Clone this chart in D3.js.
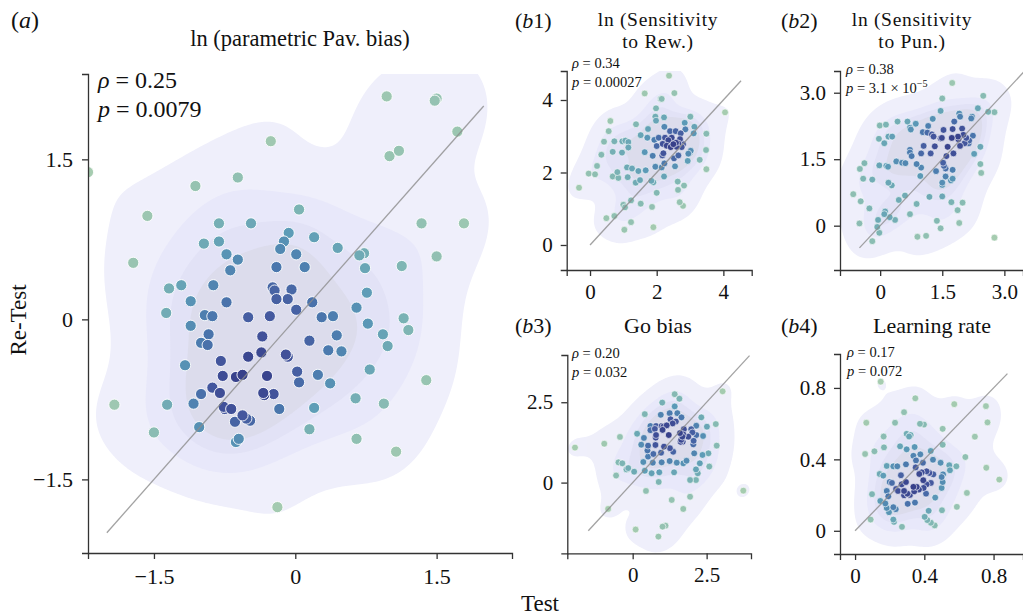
<!DOCTYPE html>
<html><head><meta charset="utf-8">
<script src="https://cdn.jsdelivr.net/npm/d3@7"></script>
<style>
body{margin:0;background:#fff}
svg{display:block}
text{font-family:"Liberation Serif","DejaVu Serif",serif;fill:#111}
</style>
</head><body><svg id="c" width="1023" height="615"></svg>
<script>
// ---------------- DATA ----------------
const pavBias = [[0.97,2.09],[1.48,2.05],[1.50,2.07],[1.72,1.76],[1.00,1.53],[1.10,1.58],[-0.26,1.67],[-0.61,1.33],[-1.06,1.25],[-1.57,0.97],[-1.72,0.53],[-2.2,1.38],[0.04,1.03],[-0.81,0.90],[-0.47,0.90],[-0.97,0.71],[-0.81,0.73],[-0.07,0.81],[-0.12,0.73],[0.20,0.77],[-0.16,0.66],[0.01,0.61],[-0.73,0.61],[-0.61,0.56],[-0.69,0.46],[-0.20,0.49],[0.10,0.49],[0.45,0.67],[0.68,0.60],[0.73,0.62],[0.74,0.48],[1.13,0.50],[1.34,0.90],[1.79,0.90],[1.50,0.59],[0.76,0.25],[-1.34,0.29],[-1.21,0.32],[-0.87,0.32],[-0.24,0.30],[-0.22,0.27],[-0.04,0.28],[-1.11,0.17],[-0.73,0.16],[-0.20,0.19],[-0.08,0.19],[0.18,0.16],[-1.37,0.06],[-0.96,0.04],[-0.88,0.03],[-1.11,-0.06],[-0.50,0.02],[-0.27,0.03],[0.01,0.09],[0.65,0.11],[0.28,0.02],[0.40,0.03],[0.77,-0.04],[1.15,0.01],[1.20,-0.10],[-0.92,-0.14],[-1.00,-0.22],[-0.93,-0.24],[-0.35,-0.16],[0.15,-0.20],[0.44,-0.15],[0.93,-0.14],[0.98,-0.25],[-0.36,-0.31],[-0.10,-0.33],[-0.08,-0.35],[0.35,-0.29],[0.49,-0.30],[-0.50,-0.35],[-0.79,-0.39],[-1.17,-0.43],[0.79,-0.47],[1.39,-0.57],[-0.77,-0.53],[-0.63,-0.54],[-0.56,-0.52],[-0.30,-0.53],[0.02,-0.49],[0.24,-0.52],[0.04,-0.59],[0.37,-0.60],[-0.88,-0.64],[-0.80,-0.69],[-1.00,-0.70],[-0.34,-0.69],[-0.33,-0.71],[-0.23,-0.70],[0.64,-0.74],[-1.92,-0.80],[-1.36,-0.80],[-1.08,-0.79],[0.94,-0.79],[-0.76,-0.82],[-0.75,-0.84],[-0.68,-0.84],[-0.17,-0.84],[0.20,-0.83],[-0.56,-0.90],[-0.52,-0.93],[-0.48,-0.95],[-0.64,-0.96],[-1.02,-1.01],[-1.50,-1.06],[0.15,-1.03],[0.65,-1.12],[1.07,-1.24],[-0.60,-1.12],[-0.63,-1.15],[-0.19,-1.76]];

const sensRew = [[2.37,4.67],[1.64,4.18],[2.53,4.19],[2.12,4.03],[2.15,4.03],[4.05,3.66],[1.98,3.77],[0.61,3.42],[1.38,3.33],[1.96,3.54],[1.98,3.43],[2.22,3.52],[0.56,3.14],[3.01,3.54],[2.84,3.37],[2.23,3.26],[1.74,3.20],[0.42,2.85],[0.73,2.86],[0.97,2.86],[1.06,2.88],[1.15,2.84],[1.52,3.03],[1.72,2.96],[2.40,3.14],[2.57,3.14],[2.72,3.08],[2.86,3.19],[3.13,3.26],[3.49,3.07],[3.11,3.08],[1.93,2.90],[2.06,2.96],[2.25,2.96],[2.35,2.89],[2.45,2.96],[2.70,2.92],[2.65,2.80],[2.58,2.82],[2.60,2.71],[2.75,2.70],[2.79,2.78],[2.18,2.79],[2.30,2.74],[2.42,2.70],[2.50,2.78],[2.00,2.73],[1.15,2.69],[0.68,2.57],[0.96,2.55],[0.34,2.49],[1.64,2.56],[1.88,2.46],[2.17,2.47],[2.20,2.53],[2.65,2.47],[2.52,2.39],[2.95,2.52],[3.00,2.55],[3.02,2.60],[2.93,2.32],[3.29,2.35],[3.49,2.09],[3.48,2.62],[0.21,2.18],[0.15,1.95],[-0.04,1.97],[-0.33,1.58],[0.82,2.01],[0.68,1.89],[0.85,1.85],[1.11,2.14],[1.26,2.11],[1.45,2.04],[1.67,2.06],[1.96,2.16],[2.15,2.14],[2.23,2.25],[2.55,2.17],[1.13,1.87],[1.37,1.72],[1.50,1.79],[1.84,1.77],[1.90,1.73],[2.22,1.89],[2.00,1.44],[2.63,1.75],[2.82,1.64],[2.64,1.52],[1.23,1.23],[1.52,1.14],[1.86,1.05],[2.69,1.18],[2.79,1.08],[1.00,1.11],[1.05,1.04],[0.49,0.74],[0.73,0.80],[1.23,0.63],[1.03,0.42],[1.90,0.49]];

const sensPun = [[1.74,3.22],[1.50,2.87],[2.49,2.93],[2.36,2.65],[2.61,2.57],[2.76,2.56],[1.27,2.41],[1.46,2.59],[1.91,2.53],[1.93,2.46],[2.20,2.42],[2.22,2.46],[0.42,2.35],[0.66,2.35],[0.86,2.30],[0.72,2.21],[0.74,2.17],[-0.01,2.26],[0.14,2.28],[1.16,2.25],[1.79,2.35],[1.53,2.16],[1.75,2.18],[1.98,2.19],[2.24,2.03],[1.03,2.11],[1.14,2.10],[1.25,2.06],[1.29,2.01],[1.46,1.97],[1.49,1.98],[-0.03,1.96],[0.20,2.01],[0.29,2.01],[0.10,1.86],[1.88,2.01],[1.89,1.95],[2.01,2.05],[2.08,1.98],[2.15,1.92],[2.04,1.86],[2.14,1.86],[2.42,1.78],[2.27,1.62],[1.05,1.80],[1.32,1.79],[1.63,1.78],[0.72,1.71],[0.72,1.65],[0.76,1.57],[0.99,1.63],[1.22,1.63],[1.77,1.63],[1.60,1.57],[1.93,1.80],[1.73,1.98],[0.39,1.45],[0.53,1.42],[0.61,1.41],[0.88,1.39],[0.99,1.31],[1.52,1.42],[1.54,1.35],[1.35,1.23],[1.58,1.29],[1.75,1.26],[-0.38,1.41],[-0.49,1.28],[-0.02,1.36],[0.15,1.35],[0.19,1.33],[2.42,1.39],[2.44,1.19],[-0.41,1.06],[-0.19,1.04],[0.20,0.97],[0.28,0.91],[0.97,1.12],[1.58,1.11],[1.75,1.06],[1.71,1.02],[1.50,0.97],[1.50,0.92],[-0.65,0.71],[-0.47,0.55],[-0.26,0.39],[0.45,0.58],[0.60,0.68],[0.88,0.49],[1.19,0.65],[1.50,0.66],[1.72,0.53],[1.99,0.52],[1.87,0.35],[0.12,0.32],[0.10,0.26],[0.23,0.19],[0.36,0.13],[-0.05,0.13],[0.72,0.26],[-0.50,0.05],[-0.07,-0.03],[-0.02,-0.16],[-0.19,-0.35],[1.37,0.11],[1.46,-0.06],[1.91,0.06],[0.90,-0.25],[1.11,-0.23],[2.76,-0.27]];

const goBias = [[-1.95,1.09],[-0.96,1.21],[-0.43,1.42],[-0.48,0.63],[-0.35,0.60],[-0.15,0.45],[-0.21,0.41],[0.05,0.34],[-0.56,0.22],[-0.83,-0.82],[0.45,-0.26],[1.32,-0.54],[1.71,-0.82],[1.94,-0.44],[0.10,-1.46],[1.01,-1.37],[1.11,-1.34],[0.87,-1.68],[3.74,-0.25],[3.04,2.84],[1.42,2.75],[1.58,2.61],[1.00,2.49],[0.41,2.13],[1.42,2.37],[1.25,2.16],[1.51,2.16],[0.95,2.11],[1.65,2.03],[2.32,2.03],[1.28,1.97],[1.46,1.90],[1.15,1.78],[1.35,1.84],[0.60,1.76],[0.79,1.76],[0.98,1.76],[2.51,1.74],[2.81,1.82],[2.15,1.77],[0.15,1.52],[0.60,1.63],[0.75,1.67],[1.04,1.74],[1.01,1.64],[1.73,1.66],[1.98,1.66],[2.02,1.56],[0.38,1.39],[0.79,1.48],[0.78,1.40],[1.22,1.48],[1.60,1.54],[1.68,1.43],[1.71,1.50],[1.88,1.43],[2.15,1.48],[2.38,1.45],[0.29,1.18],[0.52,1.15],[0.77,1.17],[1.06,1.12],[1.26,1.07],[1.64,1.33],[1.62,1.27],[1.69,1.27],[2.06,1.30],[2.05,1.19],[2.84,1.15],[0.50,1.00],[0.70,0.89],[0.96,0.93],[1.37,0.96],[2.08,0.91],[2.36,0.86],[2.56,0.91],[0.52,0.81],[0.36,0.64],[0.68,0.62],[0.98,0.63],[1.25,0.67],[1.49,0.62],[1.71,0.60],[1.82,0.68],[2.27,0.60],[2.59,0.50],[0.41,0.37],[0.64,0.29],[0.90,0.32],[1.40,0.32],[2.14,0.41],[2.20,0.29],[0.88,0.02],[1.94,0.08],[2.14,0.08]];

const learnRate = [[0.148,0.835],[0.348,0.742],[0.573,0.709],[0.756,0.698],[0.065,0.605],[0.231,0.605],[0.283,0.664],[0.375,0.599],[0.398,0.595],[0.506,0.571],[0.765,0.607],[0.692,0.527],[0.298,0.543],[0.312,0.528],[0.321,0.536],[0.165,0.528],[0.167,0.467],[0.112,0.445],[0.058,0.430],[0.260,0.473],[0.298,0.456],[0.344,0.469],[0.437,0.447],[0.506,0.482],[0.637,0.413],[0.758,0.353],[0.833,0.287],[0.646,0.212],[0.588,0.134],[0.337,0.420],[0.377,0.428],[0.294,0.372],[0.352,0.394],[0.392,0.381],[0.450,0.398],[0.494,0.381],[0.544,0.367],[0.548,0.339],[0.585,0.361],[0.183,0.363],[0.221,0.361],[0.244,0.361],[0.350,0.355],[0.413,0.333],[0.429,0.324],[0.452,0.316],[0.371,0.318],[0.385,0.327],[0.142,0.318],[0.163,0.309],[0.265,0.311],[0.508,0.316],[0.500,0.301],[0.200,0.273],[0.213,0.268],[0.294,0.273],[0.269,0.260],[0.394,0.283],[0.413,0.260],[0.438,0.268],[0.337,0.246],[0.356,0.246],[0.237,0.234],[0.248,0.223],[0.283,0.223],[0.283,0.199],[0.183,0.223],[0.098,0.205],[0.192,0.193],[0.302,0.208],[0.317,0.201],[0.342,0.221],[0.369,0.231],[0.396,0.240],[0.410,0.208],[0.506,0.273],[0.500,0.240],[0.463,0.186],[0.146,0.167],[0.175,0.153],[0.235,0.121],[0.221,0.132],[0.183,0.128],[0.196,0.104],[0.304,0.151],[0.346,0.158],[0.425,0.112],[0.502,0.115],[0.090,0.063],[0.221,0.063],[0.225,0.050],[0.402,0.078],[0.417,0.060],[0.438,0.045],[0.460,0.030],[0.271,0.022]];

const panelData = [pavBias, sensRew, sensPun, goBias, learnRate];
const panelTags = ["a", "b1", "b2", "b3", "b4"];
const panelTitles = [["ln (parametric Pav. bias)"], ["ln (Sensitivity", "to Rew.)"], ["ln (Sensitivity", "to Pun.)"], ["Go bias"], ["Learning rate"]];
const rhoValues = ["0.25", "0.34", "0.38", "0.20", "0.17"];
const pValues = ["0.0079", "0.00027", "3.1 × 10", "0.032", "0.072"];
const pExponents = ["", "", "−5", "", ""];
const xTickValues = [[-1.5, 0, 1.5], [0, 2, 4], [0, 1.5, 3.0], [0, 2.5], [0, 0.4, 0.8]];
const yTickValues = [[-1.5, 0, 1.5], [0, 2, 4], [0, 1.5, 3.0], [0, 2.5], [0, 0.4, 0.8]];
const tickDecimals = [1, 0, 1, 1, 1];
const xDomains = [[-2.2, 2.3], [-0.7, 4.85], [-0.97, 3.45], [-2.21, 4.0], [-0.087, 0.97]];
const yDomains = [[-2.19, 2.3], [-0.69, 4.8], [-1.0, 3.49], [-2.2, 3.97], [-0.13, 0.99]];
const identitySpan = [[-2, 2], [0, 4.53], [-0.5, 3.6], [-1.5, 3.95], [0, 0.88]];
const axisLabels = {x: "Test", y: "Re-Test"};

// ---------------- LAYOUT / STYLE ----------------
const layout = [
  {l: 88, r: 512, t: 74, b: 553, big: true},
  {l: 566.7, r: 751.7, t: 71, b: 270},
  {l: 840, r: 1023, t: 71, b: 270},
  {l: 567.3, r: 751, t: 355, b: 553.3},
  {l: 840, r: 1023, t: 354, b: 554}
];
const textPos = [
  {tag: [11, 28], title: [300, 46], rho: [98, 87.5], p: [98, 116.5]},
  {tag: [515, 28], title: [658, 26], rho: [572, 68], p: [572, 87]},
  {tag: [781, 28], title: [912, 26], rho: [846, 74], p: [846, 93]},
  {tag: [515, 333], title: [658, 333], rho: [572, 358], p: [572, 377]},
  {tag: [781, 333], title: [932, 333], rho: [847, 357], p: [847, 376]}
];
const kdeProps = [0.05, 0.25, 0.42, 0.58];
const kdeFills = ["#efeffb", "#e8e8fa", "#e2e2f6", "#dcdcec"];
const crest = d3.scaleLinear()
  .domain([0, 0.3, 0.5, 0.7, 0.85, 1])
  .range(["#a6ccb0", "#7cb4b4", "#5c9bb7", "#4b7aae", "#45589f", "#37408a"])
  .interpolate(d3.interpolateRgb);

const svg = d3.select("#c");
const defs = svg.append("defs");

function kdeFactory(pts) {
  const n = pts.length;
  const mx = d3.mean(pts, d => d[0]), my = d3.mean(pts, d => d[1]);
  let sxx = 0, syy = 0, sxy = 0;
  pts.forEach(([x, y]) => { sxx += (x - mx) ** 2; syy += (y - my) ** 2; sxy += (x - mx) * (y - my); });
  sxx /= (n - 1); syy /= (n - 1); sxy /= (n - 1);
  const f2 = Math.pow(n, -1 / 3);
  const a = sxx * f2, c = syy * f2, b = sxy * f2;
  const det = a * c - b * b;
  const ia = c / det, ic = a / det, ib = -b / det;
  const norm = 1 / (n * 2 * Math.PI * Math.sqrt(det));
  return (x, y) => {
    let s = 0;
    for (const [px, py] of pts) {
      const dx = x - px, dy = y - py;
      s += Math.exp(-0.5 * (ia * dx * dx + 2 * ib * dx * dy + ic * dy * dy));
    }
    return s * norm;
  };
}

panelData.forEach((pts, k) => {
  const L = layout[k];
  const xs = d3.scaleLinear().domain(xDomains[k]).range([L.l, L.r]);
  const ys = d3.scaleLinear().domain(yDomains[k]).range([L.b, L.t]);
  const g = svg.append("g");
  const clipId = "clip" + k;
  defs.append("clipPath").attr("id", clipId).append("rect")
    .attr("x", L.l).attr("y", L.t).attr("width", L.r - L.l).attr("height", L.b - L.t);
  const plot = g.append("g").attr("clip-path", `url(#${clipId})`);

  // KDE grid
  const dens = kdeFactory(pts);
  const step = 2;
  const gx0 = L.l - 20, gy0 = L.t - 20;
  const nx = Math.ceil((L.r - L.l + 40) / step) + 1, ny = Math.ceil((L.b - L.t + 40) / step) + 1;
  const vals = new Float64Array(nx * ny);
  for (let j = 0; j < ny; j++) for (let i = 0; i < nx; i++) {
    vals[j * nx + i] = dens(xs.invert(gx0 + i * step), ys.invert(gy0 + j * step));
  }
  const sorted = Array.from(vals).sort((p, q) => p - q);
  const tot = d3.sum(sorted);
  const cum = []; let acc = 0;
  for (const v of sorted) { acc += v; cum.push(acc / tot); }
  const levels = kdeProps.map(q => sorted[d3.bisectLeft(cum, q)]);
  const contours = d3.contours().size([nx, ny]).thresholds(levels)(vals);
  const proj = d3.geoTransform({point(x, y) { this.stream.point(gx0 + (x - 0.5) * step, gy0 + (y - 0.5) * step); }});
  const path = d3.geoPath(proj);
  plot.selectAll("path.kde").data(contours).join("path")
    .attr("class", "kde").attr("d", path).attr("fill", (d, i) => kdeFills[i]).attr("stroke", "none");

  // points coloured by density
  const pd = pts.map(d => dens(d[0], d[1]));
  const dmin = d3.min(pd), dmax = d3.max(pd);
  const order = d3.range(pts.length).sort((p, q) => pd[p] - pd[q]);
  plot.selectAll("circle").data(order).join("circle")
    .attr("cx", i => xs(pts[i][0])).attr("cy", i => ys(pts[i][1]))
    .attr("r", L.big ? 5.6 : 3.4)
    .attr("fill", i => crest((pd[i] - dmin) / (dmax - dmin)))
    .attr("stroke", "#fff").attr("stroke-width", L.big ? 0.9 : 0.6);

  // identity line
  const sp = identitySpan[k];
  plot.append("line")
    .attr("x1", xs(sp[0])).attr("y1", ys(sp[0])).attr("x2", xs(sp[1])).attr("y2", ys(sp[1]))
    .attr("stroke", "#8c8c8c").attr("stroke-width", 1.3).attr("opacity", 0.8);

  // axes
  const fmt = d => d === 0 ? "0" : (d < 0 ? "\u2212" : "") + Math.abs(d).toFixed(tickDecimals[k]);
  const fs = L.big ? 22 : 21;
  const xa = g.append("g").attr("transform", `translate(0,${L.b})`)
    .call(d3.axisBottom(xs).tickValues(xTickValues[k]).tickFormat(fmt).tickSizeOuter(0).tickSize(6).tickPadding(L.big ? 9 : 8));
  const ya = g.append("g").attr("transform", `translate(${L.l},0)`)
    .call(d3.axisLeft(ys).tickValues(yTickValues[k]).tickFormat(fmt).tickSizeOuter(0).tickSize(6).tickPadding(L.big ? 9 : 8));
  [xa, ya].forEach(a => {
    a.selectAll("path,line").attr("stroke", "#333").attr("stroke-width", 1.3);
    a.selectAll("text").attr("font-size", fs).attr("font-family", "Liberation Serif").attr("fill", "#111");
  });

  // texts
  const T = textPos[k];
  const tg = svg.append("text").attr("x", T.tag[0]).attr("y", T.tag[1]).attr("font-size", L.big ? 24 : 22);
  tg.append("tspan").text("(");
  tg.append("tspan").attr("font-style", "italic").text(panelTags[k][0]);
  tg.append("tspan").text(panelTags[k].slice(1) + ")");
  const multi = panelTitles[k].length > 1;
  const tt = svg.append("text").attr("x", T.title[0]).attr("y", T.title[1])
    .attr("text-anchor", "middle")
    .attr("font-size", L.big ? 22.5 : (multi ? 19.5 : 22))
    .attr("letter-spacing", multi ? 0.7 : 0);
  panelTitles[k].forEach((line, li) => {
    tt.append("tspan").attr("x", T.title[0]).attr("dy", li === 0 ? 0 : 22).text(line);
  });
  const sfs = L.big ? 24 : 14.5;
  const r1 = svg.append("text").attr("x", T.rho[0]).attr("y", T.rho[1]).attr("font-size", sfs);
  r1.append("tspan").attr("font-style", "italic").text("ρ");
  r1.append("tspan").text(" = " + rhoValues[k]);
  const r2 = svg.append("text").attr("x", T.p[0]).attr("y", T.p[1]).attr("font-size", sfs);
  r2.append("tspan").attr("font-style", "italic").text("p");
  r2.append("tspan").text(" = " + pValues[k]);
  if (pExponents[k]) r2.append("tspan").attr("dy", -6).attr("font-size", sfs * 0.7).text(pExponents[k]);
});

svg.append("text").attr("x", 540).attr("y", 611).attr("text-anchor", "middle").attr("font-size", 23).text(axisLabels.x);
svg.append("text").attr("transform", "translate(26,320) rotate(-90)").attr("text-anchor", "middle").attr("font-size", 23).text(axisLabels.y);
</script>
</body></html>
